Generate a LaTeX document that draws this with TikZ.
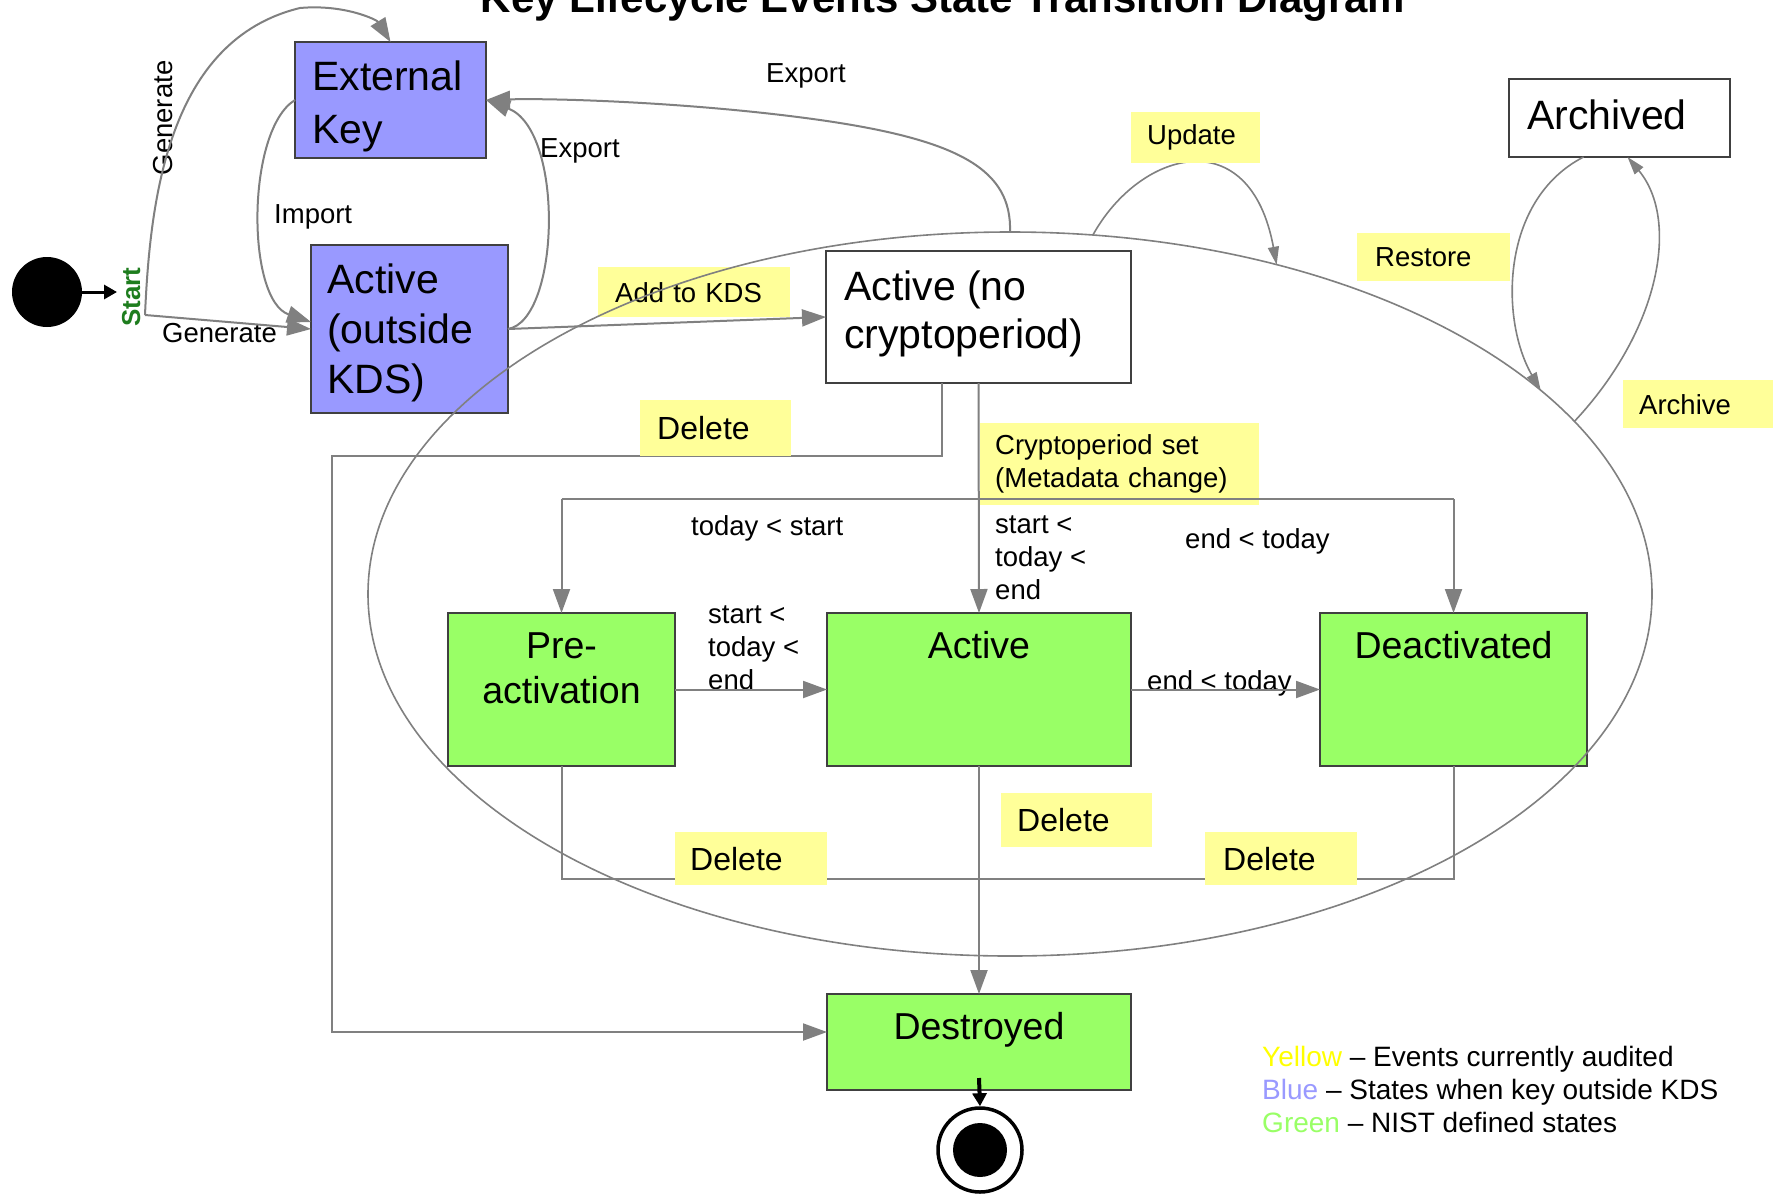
\documentclass[tikz,border=0pt]{standalone}
\usepackage{fontspec}
\setmainfont{Liberation Sans}
\usetikzlibrary{arrows.meta,shapes.geometric,calc}
\definecolor{kblue}{HTML}{9999FF}
\definecolor{kgreen}{HTML}{99FF66}
\definecolor{kyel}{HTML}{FFFF99}
\definecolor{lgray}{HTML}{808080}
\definecolor{bord}{HTML}{404040}
\definecolor{startgreen}{RGB}{30,125,30}
\definecolor{legyel}{HTML}{FFFF00}
\newcommand\lft[1]{\vtop{\halign{##\hfil\cr#1\crcr}}}
\newcommand\ctr[1]{\vtop{\halign{\hfil##\hfil\cr#1\crcr}}}
\begin{document}
\begin{tikzpicture}[x=1pt,y=-1pt,
  statebox/.style={draw=bord, line width=2.2pt, inner sep=0pt, outer sep=0pt, anchor=north west},
  bigtxt/.style={font=\fontsize{41}{50}\selectfont, inner sep=0pt, anchor=base west},
  grtxt/.style={font=\fontsize{37.5}{45}\selectfont, inner sep=0pt, anchor=base},
  lbl/.style={font=\fontsize{27.5}{33}\selectfont, inner sep=0pt, anchor=base west},
  ylab/.style={fill=kyel, inner ysep=0pt, align=left, anchor=north west, font=\fontsize{27.5}{33}\selectfont},
  dlab/.style={ylab, font=\fontsize{32}{38}\selectfont},
  conn/.style={draw=lgray, line width=2pt},
  garrow/.style={conn, -{Triangle[length=24pt,width=17pt]}},
  sarrow/.style={draw=lgray, line width=1.6pt, -{Triangle[length=18pt,width=11pt]}},
  barrow/.style={draw=black, -{Triangle[length=13pt,width=14pt]}}
]
\useasboundingbox (0,0) rectangle (1779,1194);
\clip (0,0) rectangle (1779,1194);
\fill[white] (0,0) rectangle (1779,1194);

% title (cut off at the top edge, as in the reference)
\node[font=\fontsize{42}{50}\selectfont\bfseries, inner sep=0pt, anchor=base] (title) at (943,12) {Key Lifecycle Events State Transition Diagram};

% superstate ellipse (drawn later, on top)
\node[ellipse, minimum width=1284pt, minimum height=724pt, inner sep=0pt, outer sep=0pt] (kds) at (1010,594) {};

% states
\node[statebox, fill=kblue, minimum width=191pt, minimum height=116pt] (ext) at (295,42) {};
\node[statebox, fill=kblue, minimum width=197pt, minimum height=168pt] (actout) at (311,245) {};
\node[statebox, fill=white, minimum width=305pt, minimum height=132pt] (actno) at (826,251) {};
\node[statebox, fill=white, minimum width=221pt, minimum height=78pt] (archived) at (1509,79) {};
\node[statebox, fill=kgreen, minimum width=227pt, minimum height=153pt] (pre) at (448,613) {};
\node[statebox, fill=kgreen, minimum width=304pt, minimum height=153pt] (act) at (827,613) {};
\node[statebox, fill=kgreen, minimum width=267pt, minimum height=153pt] (deact) at (1320,613) {};
\node[statebox, fill=kgreen, minimum width=304pt, minimum height=96pt] (destroyed) at (827,994) {};

% state texts
\node[bigtxt, font=\fontsize{41}{53}\selectfont] (tExt) at (312,90) {\lft{External\cr Key}};
\node[bigtxt] (tActOut) at (327,293) {\lft{Active\cr (outside\cr KDS)}};
\node[bigtxt, font=\fontsize{41}{48}\selectfont] (tActNo) at (844,300) {\lft{Active (no\cr cryptoperiod)}};
\node[bigtxt] (tArch) at (1527,129) {Archived};
\node[grtxt] (tPre) at (561.5,658) {\ctr{Pre-\cr activation}};
\node[grtxt] (tAct) at (979,658) {Active};
\node[grtxt] (tDeact) at (1453.5,658) {Deactivated};
\node[grtxt] (tDes) at (979,1039) {Destroyed};

% initial / final states
\node[circle, fill=black, minimum size=70pt, inner sep=0pt] (start) at (47,292) {};
\coordinate (startend) at (117,292);
\coordinate (gen) at (145,315);
\node[circle, draw=black, fill=white, line width=3.5pt, minimum size=84pt, inner sep=0pt] (endc) at (980,1150) {};
\fill[black] (endc.center) circle[radius=27];

% plain labels
\node[lbl] (lExp1) at (766,82) {Export};
\node[lbl] (lExp2) at (540,157) {Export};
\node[lbl] (lImp) at (274,223) {Import};
\node[lbl] (lGen1) at (162,342) {Generate};
\node[lbl, rotate=90, anchor=base] (lGen2) at (172,118) {Generate};
\node[lbl, rotate=90, anchor=base, text=startgreen, font=\fontsize{26}{30}\selectfont\bfseries] (lStart) at (140,297) {Start};
\node[lbl] (l1) at (691,535) {today < start};
\node[lbl] (l2) at (995,533) {\lft{start <\cr today <\cr end}};
\node[lbl] (l3) at (1185,548) {end < today};
\node[lbl] (l4) at (708,623) {\lft{start <\cr today <\cr end}};
\node[lbl] (l5) at (1147,690) {end < today};

% label that lies under its connector
\node[ylab, text width=249pt, inner xsep=15pt, minimum height=82pt] (yCry) at (980,423) {Cryptoperiod set\\(Metadata change)};

% connectors
\draw[barrow, line width=3pt] (start.east) -- (startend);
\draw[garrow] (gen) .. controls (150,200) and (168,40) .. (300,8) .. controls (345,4) and (377,20) .. (ext.north);
\draw[garrow] (gen) -- (actout.west);
\draw[garrow] (ext.west) .. controls (246,130) and (246,300) .. ($(actout.west)+(0,-7)$);
\draw[garrow] (actout.east) .. controls (560,320) and (565,130) .. (ext.east);
\draw[garrow] (kds.north) .. controls (1012,170) and (960,140) .. (820,120) .. controls (700,103) and (560,98) .. (ext.east);
\draw[garrow] (actout.east) -- (actno.west);
\draw[sarrow] (kds.77) .. controls (1140,150) and (1250,120) .. (kds.51);
\draw[sarrow] ($(archived.south)+(-36,0)$) .. controls (1500,200) and (1500,320) .. (kds.21);
\draw[sarrow] (kds.17) .. controls (1660,330) and (1680,220) .. ($(archived.south)+(8,0)$);

\draw[garrow] ($(actno.south)+(-36.5,0)$) -- ++(0,73) -- (332,456) -- (332,1032) -- ($(destroyed.west)+(0,-10)$);

\coordinate (cj) at (979,499);
\draw[conn] (pre.north |- cj) -- (deact.north |- cj);
\draw[garrow] (pre.north |- cj) -- (pre.north);
\draw[garrow] (deact.north |- cj) -- (deact.north);
\draw[garrow] (actno.south) -- (act.north);

\draw[garrow] (pre.east) -- (act.west);
\draw[garrow] (act.east) -- (deact.west);

\coordinate (dj) at (979,879);
\draw[conn] (pre.south) -- (pre.south |- dj) -- (deact.south |- dj) -- (deact.south);
\draw[garrow] (act.south) -- (destroyed.north);

\draw[barrow, line width=4pt] ($(destroyed.south)+(0,-12)$) -- (endc.north);

% yellow event labels
\node[ylab, text width=158pt, inner xsep=17pt, minimum height=50pt] (yAdd) at (598,267) {Add to KDS};
\node[dlab, text width=117pt, inner xsep=17pt, minimum height=56pt] (yDel1) at (640,400) {Delete};
\node[ylab, text width=97pt, inner xsep=16pt, minimum height=51pt] (yUpd) at (1131,112) {Update};
\node[ylab, text width=117pt, inner xsep=18pt, minimum height=48pt] (yRes) at (1357,233) {Restore};
\node[ylab, text width=118pt, inner xsep=16pt, minimum height=48pt] (yArc) at (1623,380) {Archive};
\node[dlab, text width=122pt, inner xsep=15pt, minimum height=53pt] (yDel2) at (675,832) {Delete};
\node[dlab, text width=119pt, inner xsep=16pt, minimum height=54pt] (yDel3) at (1001,793) {Delete};
\node[dlab, text width=116pt, inner xsep=18pt, minimum height=53pt] (yDel4) at (1205,832) {Delete};

% the KDS ellipse
\draw[lgray, line width=1.6pt] (kds.center) ellipse[x radius=642, y radius=362];

% legend
\node[font=\fontsize{28}{33}\selectfont, inner sep=0pt, anchor=base west] (legend) at (1262,1066)
  {\lft{\textcolor{legyel}{Yellow} – Events currently audited\cr
        \textcolor{kblue}{Blue} – States when key outside KDS\cr
        \textcolor{kgreen}{Green} – NIST defined states}};
\end{tikzpicture}
\end{document}
